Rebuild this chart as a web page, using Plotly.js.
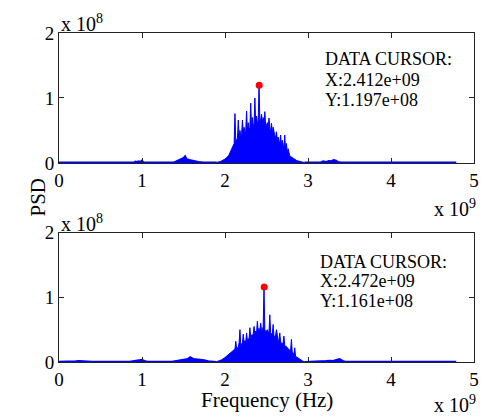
<!DOCTYPE html>
<html>
<head>
<meta charset="utf-8">
<script src="https://cdn.plot.ly/plotly-3.0.1.min.js"></script>
<style>html,body{margin:0;padding:0;background:#fff;} #chart{width:481px;height:416px;}</style>
</head>
<body>
<div id="chart"></div>
<script>
// Units: frequency in 1e9 Hz, PSD in 1e8 (as shown on the axes)
// ---- Top spectrum ----
const topBodyStart = 1.90, bodyStep = 0.01;
const topBody = [0.01,0.01,0.015,0.02,0.02,0.025,0.03,0.035,0.04,0.05,
  0.06,0.07,0.08,0.10,0.11,0.13,0.16,0.2,0.22,0.25,
  0.28,0.3,0.76,0.32,0.36,0.38,0.66,0.4,0.5,0.42,
  0.44,0.66,0.46,0.55,0.48,0.5,0.80,0.5,0.62,0.52,
  0.54,0.92,0.55,0.7,0.57,0.6,1.0,0.6,0.72,0.62,
  0.63,1.197,0.64,0.66,0.75,0.63,0.7,0.6,0.79,0.58,
  0.58,0.62,0.54,0.69,0.52,0.5,0.61,0.47,0.55,0.44,
  0.42,0.4,0.48,0.36,0.4,0.34,0.3,0.43,0.27,0.35,
  0.25,0.22,0.43,0.19,0.3,0.16,0.22,0.13,0.11,0.1,
  0.09,0.08,0.07,0.06,0.055,0.05,0.04,0.035,0.03,0.025,
  0.02,0.02,0.015,0.012,0.01,0.01,0.01];
const topFloorFreq = [0,0.28,0.3,0.32,0.34,0.9,0.92,0.94,0.96,0.98,1.0,1.02,1.38,1.41,1.44,1.47,1.5,1.52,1.54,1.57,1.6,1.64,1.68,1.72,1.9,
  2.96,3.15,3.18,3.22,3.25,3.28,3.31,3.34,3.36,3.4,4.785];
const topFloorPSD = [0.01,0.01,0.02,0.01,0.01,0.01,0.025,0.02,0.03,0.02,0.04,0.01,0.01,0.03,0.04,0.06,0.08,0.11,0.06,0.05,0.04,0.03,0.02,0.015,0.01,
  0.01,0.01,0.03,0.02,0.035,0.03,0.05,0.04,0.02,0.01,0.01];
const topCursor = {x: 2.412, y: 1.197};

// ---- Bottom spectrum ----
const botBodyStart = 1.90;
const botBody = [0.005,0.008,0.01,0.015,0.02,0.03,0.035,0.04,0.05,0.06,
  0.07,0.08,0.09,0.1,0.11,0.12,0.13,0.14,0.16,0.165,
  0.18,0.19,0.2,0.32,0.21,0.22,0.23,0.3,0.5,0.25,
  0.28,0.3,0.43,0.3,0.33,0.31,0.45,0.33,0.36,0.35,
  0.53,0.37,0.42,0.4,0.44,0.55,0.43,0.48,0.45,0.63,
  0.47,0.52,0.48,0.6,0.49,0.5,0.55,1.161,0.5,0.47,
  0.48,0.5,0.46,0.47,0.73,0.45,0.44,0.42,0.58,0.4,
  0.39,0.42,0.5,0.36,0.34,0.33,0.45,0.31,0.3,0.28,
  0.3,0.4,0.25,0.25,0.24,0.22,0.21,0.2,0.18,0.17,
  0.35,0.15,0.14,0.12,0.22,0.09,0.08,0.07,0.06,0.05,
  0.04,0.03,0.02,0.015,0.01,0.008,0.005];
const botFloorFreq = [0,0.18,0.2,0.24,0.28,0.32,0.36,0.4,0.85,0.9,0.95,1.0,1.03,1.07,1.36,1.4,1.45,1.5,1.55,1.58,1.62,1.66,1.7,1.75,1.8,1.9,
  2.96,3.18,3.22,3.26,3.3,3.35,3.38,3.42,3.45,4.785];
const botFloorPSD = [0.008,0.008,0.015,0.02,0.015,0.02,0.015,0.008,0.008,0.02,0.025,0.04,0.02,0.008,0.008,0.02,0.03,0.04,0.05,0.08,0.05,0.045,0.04,0.03,0.015,0.005,
  0.005,0.008,0.02,0.025,0.02,0.04,0.05,0.02,0.008,0.008];
const botCursor = {x: 2.472, y: 1.161};

const xTicks = [0,1,2,3,4,5];
const yTicks = [0,1,2];

const blue = '#0000ff';
const serif = 'Liberation Serif, Times New Roman, serif';

function bodyTrace(start, ys, xa, ya){
  return {type:'scatter', mode:'lines', x0:start, dx:bodyStep, y:ys, xaxis:xa, yaxis:ya,
    line:{color:blue, width:1}, fill:'tozeroy', fillcolor:blue, hoverinfo:'skip'};
}
function floorTrace(xs, ys, xa, ya){
  return {type:'scatter', mode:'lines', x:xs, y:ys, xaxis:xa, yaxis:ya,
    line:{color:blue, width:1.5}, fill:'tozeroy', fillcolor:blue};
}
function cursorTrace(c, xa, ya){
  return {type:'scatter', mode:'markers', x:[c.x], y:[c.y], xaxis:xa, yaxis:ya,
    marker:{color:'#ff0000', size:7}};
}

const data = [
  floorTrace(topFloorFreq.slice(0,25), topFloorPSD.slice(0,25), 'x', 'y'),
  floorTrace(topFloorFreq.slice(25), topFloorPSD.slice(25), 'x', 'y'),
  bodyTrace(topBodyStart, topBody, 'x', 'y'),
  cursorTrace(topCursor, 'x', 'y'),
  floorTrace(botFloorFreq.slice(0,26), botFloorPSD.slice(0,26), 'x2', 'y2'),
  floorTrace(botFloorFreq.slice(26), botFloorPSD.slice(26), 'x2', 'y2'),
  bodyTrace(botBodyStart, botBody, 'x2', 'y2'),
  cursorTrace(botCursor, 'x2', 'y2')
];

const axBase = {
  showgrid:false, zeroline:false, showline:true, linecolor:'#222', linewidth:1,
  mirror:'ticks', ticks:'inside', ticklen:5, tickcolor:'#222', tickwidth:1,
  tickfont:{family:serif, size:19, color:'#000'}, fixedrange:true
};
function xa(anchor){ return Object.assign({}, axBase, {range:[0,5], tickvals:xTicks, ticktext:xTicks.map(String), anchor:anchor}); }
function ya(anchor, dom){ return Object.assign({}, axBase, {range:[0,2], tickvals:yTicks, ticktext:yTicks.map(String), anchor:anchor, domain:dom}); }

const annFont = {family:serif, size:18, color:'#000'};
function cursorLines(c){
  return ['DATA CURSOR:', 'X:' + c.x.toFixed(3) + 'e+09', 'Y:' + c.y.toFixed(3) + 'e+08'];
}
function cursorAnns(c, xref, yref, x, ys){
  return cursorLines(c).map((t, i) => ({xref:xref, yref:yref, x:x, y:ys[i], xanchor:'left', yanchor:'middle',
    text:t, showarrow:false, font:annFont}));
}
const sciFont = {family:serif, size:20, color:'#000'};

const layout = {
  width:481, height:416,
  margin:{l:59, r:7, t:33, b:54},
  paper_bgcolor:'#fff', plot_bgcolor:'#fff',
  showlegend:false,
  xaxis: xa('y'),
  yaxis: ya('x', [0.605, 1]),
  xaxis2: xa('y2'),
  yaxis2: ya('x2', [0, 0.393]),
  annotations:[
    {xref:'paper', yref:'paper', x:0.0, y:1.0, xanchor:'left', yanchor:'bottom', yshift:-4,
     text:'x 10<sup>8</sup>', showarrow:false, font:sciFont},
    {xref:'paper', yref:'paper', x:1.0, y:0.605, xanchor:'right', yanchor:'top', yshift:-31, xshift:4,
     text:'x 10<sup>9</sup>', showarrow:false, font:sciFont},
    {xref:'paper', yref:'paper', x:0.0, y:0.393, xanchor:'left', yanchor:'bottom', yshift:-4,
     text:'x 10<sup>8</sup>', showarrow:false, font:sciFont},
    {xref:'paper', yref:'paper', x:1.0, y:0, xanchor:'right', yanchor:'top', yshift:-28, xshift:4,
     text:'x 10<sup>9</sup>', showarrow:false, font:sciFont},
    ...cursorAnns(topCursor, 'x', 'y', 3.18, [1.60, 1.28, 0.97]),
    ...cursorAnns(botCursor, 'x2', 'y2', 3.12, [1.55, 1.25, 0.95]),
    {xref:'paper', yref:'paper', x:0.5, y:0, xanchor:'center', yanchor:'middle', yshift:-38,
     text:'Frequency (Hz)', showarrow:false, font:{family:serif, size:21, color:'#000'}},
    {xref:'paper', yref:'paper', x:0, y:0.5, xanchor:'center', yanchor:'middle', xshift:-22,
     text:'PSD', textangle:-90, showarrow:false, font:{family:serif, size:21, color:'#000'}}
  ]
};

Plotly.newPlot('chart', data, layout, {staticPlot:true, displayModeBar:false});
</script>
</body>
</html>
